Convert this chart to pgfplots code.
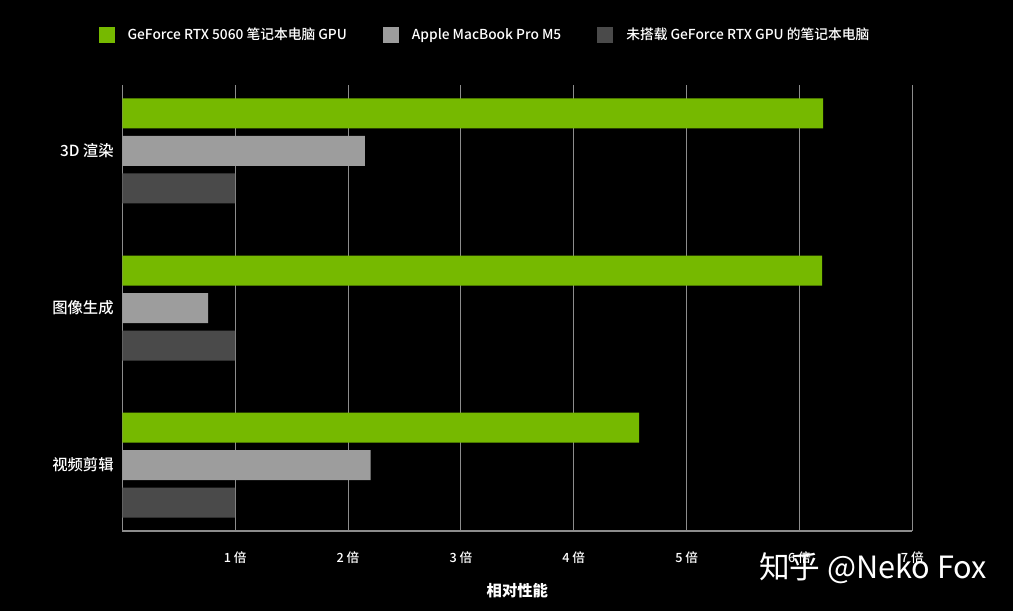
\documentclass[border=0pt]{standalone}
\usepackage{pgfplots}
\pgfplotsset{compat=1.18}
\usepackage{fontspec}
\setmainfont{Noto Sans CJK SC}
\newfontfamily\medfont{Noto Sans CJK SC Medium}
\definecolor{nvgreen}{HTML}{76B900}
\definecolor{lgray}{HTML}{9D9D9D}
\definecolor{dgray}{HTML}{4A4A4A}
\definecolor{gridc}{HTML}{8C8C8C}
\begin{document}
\begin{tikzpicture}[x=0.75pt,y=0.75pt]
\fill[black] (0,0) rectangle (1013,611);
\useasboundingbox (0,0) rectangle (1013,611);
\begin{axis}[
  at={(91.75pt,60pt)}, anchor=south west,
  scale only axis, width=592.5pt, height=334.5pt,
  xmin=0, xmax=7, ymin=-0.42, ymax=2.42,
  xbar, bar width=22.5pt,
  axis x line=bottom, axis y line=left,
  axis line style={gridc, line width=1pt, -},
  xtick={1,2,3,4,5,6,7},
  xticklabels={1 倍,2 倍,3 倍,4 倍,5 倍,6 倍,7 倍},
  ytick={0,1,2},
  yticklabels={视频剪辑,图像生成,3D 渲染},
  major tick length=0pt,
  xmajorgrids, grid style={gridc, line width=0.8pt},
  tick label style={text=white},
  xticklabel style={font=\medfont\fontsize{9.5}{11}\selectfont, anchor=center, yshift=-20pt},
  yticklabel style={font=\medfont\fontsize{11.5}{13}\selectfont, anchor=east, xshift=-3pt},
  xlabel={相对性能},
  xlabel style={text=white, font=\bfseries\fontsize{11.5}{13}\selectfont,
    at={(axis description cs:0.5,0)}, anchor=center, yshift=-45pt},
  legend columns=3,
  legend style={at={(axis description cs:-0.0304,1.112)}, anchor=west,
    draw=none, fill=none, text=white, inner sep=0pt,
    font=\medfont\fontsize{10.3}{12}\selectfont,
    nodes={inner sep=0pt},
    cells={anchor=west},
    /tikz/every odd column/.append style={column sep=9.75pt},
    /tikz/every even column/.append style={column sep=27pt}},
  legend image code/.code={\fill[#1] (0pt,-6pt) rectangle (12pt,6pt);},
]
\addplot[fill=nvgreen, draw=none, bar shift=28.125pt] coordinates {(6.21,2) (6.2,1) (4.58,0)};
\addlegendentry{GeForce RTX 5060 笔记本电脑 GPU}
\addplot[fill=lgray, draw=none, bar shift=0pt] coordinates {(2.15,2) (0.76,1) (2.2,0)};
\addlegendentry{Apple MacBook Pro M5}
\addplot[fill=dgray, draw=none, bar shift=-28.125pt] coordinates {(1,2) (1,1) (1,0)};
\addlegendentry{未搭载 GeForce RTX GPU 的笔记本电脑}
\end{axis}
\node[text=white, font=\fontsize{23}{27}\selectfont, anchor=west, inner sep=0pt] at (759,43) {知乎 @Neko Fox};
\end{tikzpicture}
\end{document}
